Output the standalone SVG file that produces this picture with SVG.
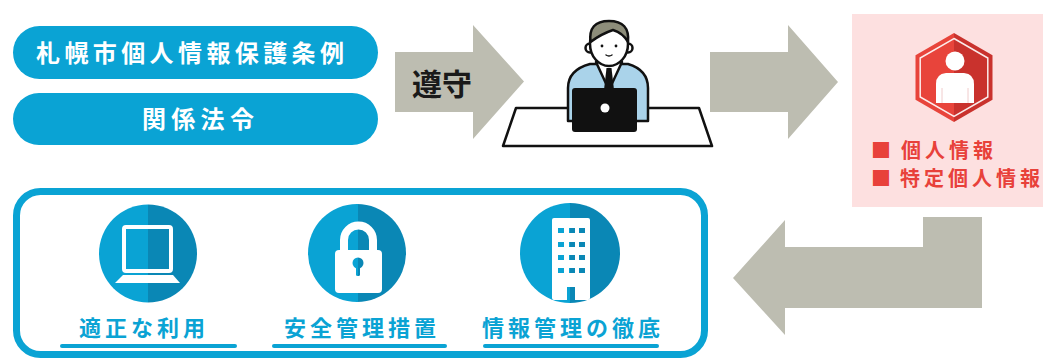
<svg xmlns="http://www.w3.org/2000/svg" width="1043" height="358" viewBox="0 0 1043 358">
  <style>
    .jp { font-family: "Noto Sans CJK JP", "Noto Sans CJK SC", sans-serif; font-weight: 700; }
    .pill { fill: #0aa3d4; }
    .pill-text { fill: #ffffff; font-size: 24px; }
    .arrow { fill: #bdbdb1; }
    .label { fill: #0aa3d4; font-size: 22px; letter-spacing: 4px; }
    .underline { stroke: #0aa3d4; stroke-width: 4; stroke-linecap: round; }
    .ink { stroke: #111111; stroke-width: 2.5; stroke-linejoin: round; stroke-linecap: round; }
    .red-text { fill: #e8413a; font-size: 20px; letter-spacing: 4px; }
    .white { fill: #ffffff; }
  </style>
  <defs>
    <!-- two-tone fills: light left half, dark right half -->
    <linearGradient id="tone1" gradientUnits="userSpaceOnUse" x1="147" y1="0" x2="149" y2="0">
      <stop offset="0.5" stop-color="#0aa3d4"/><stop offset="0.5" stop-color="#0a87b5"/>
    </linearGradient>
    <linearGradient id="tone2" gradientUnits="userSpaceOnUse" x1="357" y1="0" x2="359" y2="0">
      <stop offset="0.5" stop-color="#0aa3d4"/><stop offset="0.5" stop-color="#0a87b5"/>
    </linearGradient>
    <linearGradient id="tone3" gradientUnits="userSpaceOnUse" x1="569" y1="0" x2="571" y2="0">
      <stop offset="0.5" stop-color="#0aa3d4"/><stop offset="0.5" stop-color="#0a87b5"/>
    </linearGradient>
    <linearGradient id="toneRed" gradientUnits="userSpaceOnUse" x1="953" y1="0" x2="955" y2="0">
      <stop offset="0.5" stop-color="#e8443b"/><stop offset="0.5" stop-color="#c9322d"/>
    </linearGradient>
  </defs>

  <!-- regulations -->
  <g id="ordinance">
    <rect class="pill" x="13" y="26" width="365" height="53" rx="26.5"/>
    <text class="jp pill-text" x="36" y="61.5" letter-spacing="4.4">札幌市個人情報保護条例</text>
  </g>
  <g id="laws">
    <rect class="pill" x="13" y="93" width="365" height="52" rx="26"/>
    <text class="jp pill-text" x="142" y="128" letter-spacing="5.3">関係法令</text>
  </g>

  <!-- staff member at a desk -->
  <g id="staff">
    <path class="ink" d="M516,108 L699,108 L712,146 L503,146 Z" fill="#ffffff"/>
    <path class="ink" d="M568,121 L568,88 Q568,70 590,64 L628,64 Q648,70 648,88 L648,121 Z" fill="#aad3ea"/>
    <path class="ink" d="M596,62 L622,62 L609,90 Z" fill="#ffffff"/>
    <path d="M606.5,68 L611.5,68 L614,90 L604,90 Z" fill="#111111"/>
    <circle class="ink" cx="590" cy="48" r="4.5" fill="#ffffff"/>
    <circle class="ink" cx="628" cy="48" r="4.5" fill="#ffffff"/>
    <ellipse class="ink" cx="609" cy="44" rx="19" ry="22" fill="#ffffff"/>
    <path class="ink" d="M590.5,42 Q588,21 609,21 Q630,21 628,42 Q623,33 613,30 Q601,34 590.5,42 Z" fill="#8d8d7a" stroke-width="2"/>
    <circle cx="602" cy="46" r="1.4" fill="#111111"/>
    <circle cx="616" cy="46" r="1.4" fill="#111111"/>
    <path d="M606,55 Q609,57 612,55" fill="none" stroke="#111111" stroke-width="1.4" stroke-linecap="round"/>
    <rect x="572" y="88" width="65" height="44" rx="3" fill="#111111"/>
    <circle cx="605" cy="108" r="4.5" fill="#ffffff"/>
  </g>

  <!-- personal information -->
  <g id="personal-info">
    <rect x="852" y="14" width="191" height="193" fill="#fde0e0"/>
    <polygon points="954,33 992.5,55.25 992.5,99.75 954,122 915.5,99.75 915.5,55.25" fill="url(#toneRed)"/>
    <polygon points="954,38.5 987.8,58 987.8,97 954,116.5 920.2,97 920.2,58" fill="none" stroke="#ffffff" stroke-width="1.5" opacity="0.9"/>
    <circle class="white" cx="955" cy="61" r="9.5"/>
    <path class="white" d="M936,103 L936,84 Q936,74 946,73 L964,73 Q974,74 974,84 L974,103 Z"/>
    <path d="M942,88 L942,103 M968,88 L968,103" stroke="#f0cccc" stroke-width="1"/>
    <text class="jp red-text" x="871" y="158" font-size="16" letter-spacing="0">■</text>
    <text class="jp red-text" x="901" y="158">個人情報</text>
    <text class="jp red-text" x="871" y="186" font-size="16" letter-spacing="0">■</text>
    <text class="jp red-text" x="900" y="186" letter-spacing="3.5">特定個人情報</text>
  </g>

  <!-- handling measures -->
  <g id="measures">
    <rect x="16.5" y="191.5" width="688" height="163" rx="24" fill="none" stroke="#0aa3d4" stroke-width="7"/>
  </g>
  <g id="proper-use">
    <circle cx="148" cy="253.5" r="49" fill="url(#tone1)"/>
    <rect x="124" y="227" width="47" height="44" rx="2" fill="none" stroke="#ffffff" stroke-width="4"/>
    <polygon class="white" points="123,275 173,275 180,283 115,283"/>
    <text class="jp label" x="79" y="335.5">適正な利用</text>
    <line class="underline" x1="62" y1="346" x2="235" y2="346"/>
  </g>
  <g id="security">
    <circle cx="357" cy="253" r="49" fill="url(#tone2)"/>
    <path d="M344,252 L344,240 A14.5,14.5 0 0 1 373,240 L373,252" fill="none" stroke="#ffffff" stroke-width="8"/>
    <rect class="white" x="335" y="250" width="47" height="43" rx="4"/>
    <circle cx="358" cy="263" r="5.5" fill="url(#tone2)"/>
    <rect x="356" y="265" width="4" height="11" rx="1.5" fill="url(#tone2)"/>
    <text class="jp label" x="284" y="335.5">安全管理措置</text>
    <line class="underline" x1="274" y1="346" x2="445" y2="346"/>
  </g>
  <g id="info-management">
    <circle cx="570" cy="253" r="50" fill="url(#tone3)"/>
    <rect class="white" x="552" y="218" width="38" height="82" rx="2"/>
    <rect x="567" y="287" width="8" height="14" fill="url(#tone3)"/>
    <g fill="url(#tone3)">
      <rect x="558" y="228" width="6" height="5"/><rect x="569" y="228" width="6" height="5"/><rect x="579" y="228" width="6" height="5"/>
      <rect x="558" y="242" width="6" height="5"/><rect x="569" y="242" width="6" height="5"/><rect x="579" y="242" width="6" height="5"/>
      <rect x="558" y="255" width="6" height="5"/><rect x="569" y="255" width="6" height="5"/><rect x="579" y="255" width="6" height="5"/>
      <rect x="558" y="268" width="6" height="5"/><rect x="569" y="268" width="6" height="5"/><rect x="579" y="268" width="6" height="5"/>
    </g>
    <text class="jp label" x="482" y="335.5">情報管理の徹底</text>
    <line class="underline" x1="485" y1="346" x2="657" y2="346"/>
  </g>

  <!-- flow arrows -->
  <g id="connectors">
    <polygon class="arrow" points="395,52 473,52 473,25 524,81.5 473,139 473,112 395,112"/>
    <text class="jp" x="412" y="95" font-size="30" fill="#1a1a1a">遵守</text>
    <polygon class="arrow" points="710,52 788,52 788,25 838,82 788,139 788,112 710,112"/>
    <polygon class="arrow" points="982,217 923,217 923,247 785,247 785,220 733,278 785,335 785,308 982,308"/>
  </g>
</svg>
